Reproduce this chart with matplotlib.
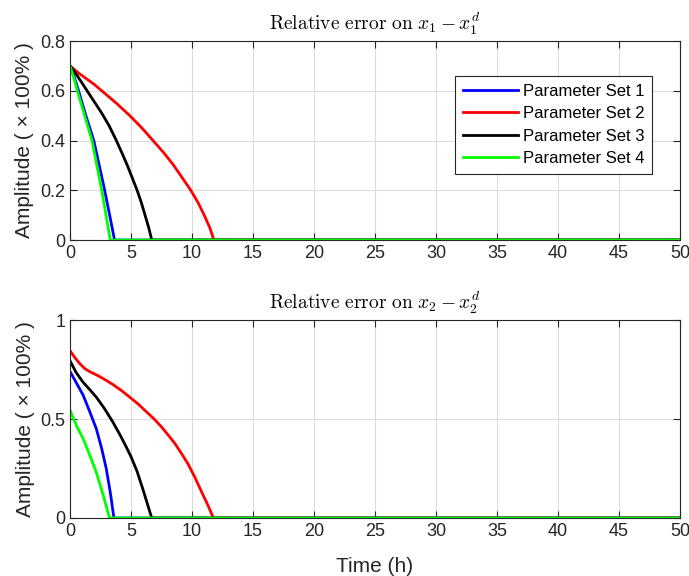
import matplotlib
matplotlib.use('Agg')
import matplotlib.pyplot as plt

# Values (time in h, relative error)
labels = ['Parameter Set 1', 'Parameter Set 2', 'Parameter Set 3', 'Parameter Set 4']
colors = ['#0000ff', '#ff0000', '#000000', '#00ff00']

# x1 - x1^d
t1_set1 = [0, 0.35, 0.7, 1.3, 1.95, 2.4, 2.84, 3.25, 3.65, 50]
e1_set1 = [0.7, 0.655, 0.6, 0.5, 0.4, 0.3, 0.2, 0.1, 0.0, 0.0]
t1_set2 = [0, 0.6, 1.3, 2.0, 2.6, 3.8, 4.9, 5.9, 6.8, 7.7, 8.5, 9.2, 9.9, 10.5, 11.0, 11.45, 11.8, 50]
e1_set2 = [0.7, 0.675, 0.65, 0.625, 0.6, 0.55, 0.5, 0.45, 0.4, 0.35, 0.3, 0.25, 0.2, 0.15, 0.1, 0.05, 0.0, 0.0]
t1_set3 = [0, 0.6, 1.4, 2.0, 2.6, 3.2, 3.8, 4.3, 4.7, 5.1, 5.5, 5.85, 6.15, 6.45, 6.7, 50]
e1_set3 = [0.7, 0.66, 0.6, 0.555, 0.51, 0.46, 0.4, 0.345, 0.3, 0.25, 0.2, 0.15, 0.1, 0.05, 0.0, 0.0]
t1_set4 = [0, 0.3, 0.6, 1.2, 1.8, 2.2, 2.6, 2.95, 3.3, 50]
e1_set4 = [0.7, 0.655, 0.6, 0.5, 0.4, 0.3, 0.2, 0.1, 0.0, 0.0]

# x2 - x2^d
t2_set1 = [0, 0.5, 1.08, 1.6, 2.16, 2.6, 2.97, 3.3, 3.6, 50]
e2_set1 = [0.74, 0.685, 0.62, 0.54, 0.45, 0.35, 0.25, 0.13, 0.0, 0.0]
t2_set2 = [0, 0.4, 0.8, 1.2, 1.6, 2.1, 2.7, 3.5, 4.3, 5.0, 5.6, 6.2, 6.9, 7.5, 8.1,
           8.6, 9.2, 9.7, 10.2, 10.8, 11.3, 11.75, 50]
e2_set2 = [0.845, 0.81, 0.78, 0.755, 0.74, 0.725, 0.705, 0.675, 0.64, 0.605, 0.575, 0.54, 0.5, 0.46, 0.415,
           0.376, 0.32, 0.27, 0.21, 0.13, 0.065, 0.0, 0.0]
t2_set3 = [0, 0.5, 1.08, 1.6, 2.16, 2.8, 3.5, 4.1, 4.6, 5.0, 5.5, 5.95, 6.35, 6.7, 50]
e2_set3 = [0.794, 0.735, 0.685, 0.65, 0.61, 0.555, 0.486, 0.42, 0.36, 0.31, 0.235, 0.15, 0.07, 0.0, 0.0]
t2_set4 = [0, 0.5, 1.08, 1.6, 2.16, 2.7, 3.24, 50]
e2_set4 = [0.545, 0.47, 0.40, 0.32, 0.23, 0.12, 0.0, 0.0]

top_series = [(t1_set1, e1_set1), (t1_set2, e1_set2), (t1_set3, e1_set3), (t1_set4, e1_set4)]
bot_series = [(t2_set1, e2_set1), (t2_set2, e2_set2), (t2_set3, e2_set3), (t2_set4, e2_set4)]

xticks = list(range(0, 51, 5))
yticks_top = [0, 0.2, 0.4, 0.6, 0.8]
yticks_bot = [0, 0.5, 1]

plt.rcParams['font.family'] = ['Liberation Sans', 'DejaVu Sans']
plt.rcParams['mathtext.fontset'] = 'cm'
plt.rcParams['axes.edgecolor'] = '#262626'
plt.rcParams['xtick.color'] = '#262626'
plt.rcParams['ytick.color'] = '#262626'

fig = plt.figure(figsize=(6.89, 5.76), dpi=100)
ax1 = fig.add_axes([0.1016, 0.5833, 0.8854, 0.3455])
ax2 = fig.add_axes([0.1016, 0.1007, 0.8854, 0.3437])


def style(ax, yticks, ylim):
    ax.set_xlim(0, 50)
    ax.set_ylim(*ylim)
    ax.set_xticks(xticks)
    ax.set_yticks(yticks)
    ax.set_yticklabels([('%g' % v) for v in yticks])
    ax.tick_params(direction='in', top=True, right=True, labelsize=13,
                   length=5, width=0.8, colors='#262626')
    ax.grid(True, color='#dcdcdc', linewidth=0.8)
    ax.set_axisbelow(True)
    for s in ax.spines.values():
        s.set_linewidth(0.8)
    ax.set_ylabel('Amplitude ( \u00d7 100% )', fontsize=15, color='#262626', labelpad=4)


for (t, e), c, lab in zip(top_series, colors, labels):
    ax1.plot(t, e, color=c, linewidth=2, label=lab)
style(ax1, yticks_top, (0, 0.8))
ax1.set_title(r'$\mathrm{Relative\ error\ on\ }x_1 - x_1^d$', fontsize=14, pad=8)
leg = ax1.legend(loc='upper right', bbox_to_anchor=(0.954, 0.824),
                 borderaxespad=0, fancybox=False, framealpha=1,
                 edgecolor='#262626', fontsize=12, handlelength=3.3,
                 handletextpad=0.3, labelspacing=0.45, borderpad=0.45)
leg.get_frame().set_linewidth(0.8)

for (t, e), c, lab in zip(bot_series, colors, labels):
    ax2.plot(t, e, color=c, linewidth=2, label=lab)
style(ax2, yticks_bot, (0, 1))
ax2.set_title(r'$\mathrm{Relative\ error\ on\ }x_2 - x_2^d$', fontsize=14, pad=8)
ax2.set_xlabel('Time (h)', fontsize=15, color='#262626', labelpad=12)

fig.savefig('out.png', dpi=100)
